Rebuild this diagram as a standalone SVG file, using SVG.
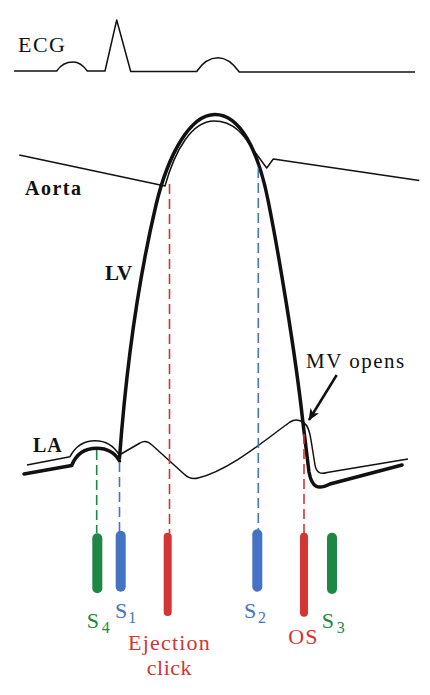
<svg xmlns="http://www.w3.org/2000/svg" width="430" height="695" viewBox="0 0 430 695">
<style>
.thin{fill:none;stroke:#111;stroke-width:1.5;stroke-linejoin:round}
.thick{fill:none;stroke:#111;stroke-width:3.5;stroke-linejoin:round;stroke-linecap:round}
.dash{fill:none;stroke-width:1.6;stroke-dasharray:10 5}
.bar{fill:none;stroke-linecap:round}
.lbl{font-family:"Liberation Serif","Times New Roman",serif;fill:#111}
.b{font-weight:bold}
.t{font-family:"Liberation Serif","Times New Roman",serif;font-size:22px}
.sub{font-size:16px}
.g{stroke:#1d8745}.gt{fill:#1d8745}
.bl{stroke:#4472c4}.blt{fill:#4472c4}
.r{stroke:#d33535}.rt{fill:#d33535}
</style>
<defs>
<marker id="ah" viewBox="0 0 12 10" refX="11" refY="5" markerWidth="12" markerHeight="10" markerUnits="userSpaceOnUse" orient="auto">
<path d="M0,0 L12,5 L0,10 L3,5 Z" fill="#111"/>
</marker>
</defs>
<g id="ecg">
<text class="lbl" x="18" y="51.5" font-size="22" letter-spacing="1.5">ECG</text>
<path class="thin" d="M14,71 L56.7,71 C62,63 68,62 73,62 C79,62 83,65 87.3,71 L105,71 L116.7,20 L130.7,71.5 L196.7,71.5 C203,62 210,57.7 218,57.7 C226,57.7 233,63 239.3,72 L415,72"/>
</g>
<g id="aorta">
<text class="lbl b" x="25" y="195" font-size="20" letter-spacing="1.5">Aorta</text>
<path class="thin" d="M19.3,155 L165,186 C175,150 192,121 214,121 C235,121 245,137 252,148 L266.7,168 L273.3,159 L419.3,180.5"/>
</g>
<g id="lv">
<text class="lbl b" x="105" y="280" font-size="21">LV</text>
<path class="thick" d="M119.5,458 C126,370 136,290 156,205 C168,155 190,114.5 215,114.5 C240,114.5 258,150 268,200 C278,250 295,350 303,423 L309,472 C312,488 318,490 330,484 L402,465"/>
</g>
<g id="la">
<text class="lbl b" x="33" y="451.7" font-size="20" letter-spacing="1">LA</text>
<path class="thick" d="M24,474 L71.7,465.5 C77,452 87,448.3 96.7,448.3 C107,448.3 115,453 119.5,461"/>
<path class="thin" d="M27,465 L70,456.7 C76,445 86,440.7 95,440.7 C106,440.7 114,446 119.3,455 L140,443 Q146,439 152,445 L184,474 Q190,480 198,478 C230,470 265,440 290,422 Q297,417.5 304,423 Q309,426 311,440 L315,465 Q317,476 327,472.5 L408,459"/>
</g>
<g id="mv-opens">
<text class="lbl" x="306" y="368" font-size="21" letter-spacing="1.5">MV opens</text>
</g>
<g id="connectors">
<line x1="336.7" y1="375" x2="309" y2="420" stroke="#111" stroke-width="2.5" marker-end="url(#ah)"/>
<line class="dash g" x1="96.7" y1="450" x2="96.7" y2="533"/>
<line class="dash bl" x1="119.5" y1="462" x2="119.5" y2="531"/>
<line class="dash r" x1="169.5" y1="184" x2="169.5" y2="533"/>
<line class="dash bl" x1="258.3" y1="168" x2="258.3" y2="530"/>
<line class="dash r" x1="304" y1="434" x2="304" y2="533"/>
</g>
<g id="s4">
<line class="bar g" x1="97.3" y1="538.3" x2="97.3" y2="588.3" stroke-width="10"/>
<text class="t gt" x="86.7" y="628">S<tspan class="sub" x="101.7" y="633">4</tspan></text>
</g>
<g id="s1">
<line class="bar bl" x1="120.7" y1="535.7" x2="120.7" y2="586.7" stroke-width="10"/>
<text class="t blt" x="115" y="618">S<tspan class="sub" x="128.3" y="623">1</tspan></text>
</g>
<g id="ejection-click">
<line class="bar r" x1="167.7" y1="536.7" x2="167.7" y2="612" stroke-width="8"/>
<text class="t rt" x="169.5" y="650" text-anchor="middle" letter-spacing="1.2">Ejection</text>
<text class="t rt" x="169.5" y="675" text-anchor="middle" letter-spacing="0.5">click</text>
</g>
<g id="s2">
<line class="bar bl" x1="257.3" y1="534.3" x2="257.3" y2="586.7" stroke-width="10"/>
<text class="t blt" x="244" y="618">S<tspan class="sub" x="258" y="623">2</tspan></text>
</g>
<g id="os">
<line class="bar r" x1="304" y1="536.7" x2="304" y2="612.7" stroke-width="8"/>
<text class="t rt" x="288.3" y="644" letter-spacing="1">OS</text>
</g>
<g id="s3">
<line class="bar g" x1="332" y1="537.7" x2="332" y2="589" stroke-width="10"/>
<text class="t gt" x="321.7" y="628">S<tspan class="sub" x="336.7" y="633">3</tspan></text>
</g>
</svg>
